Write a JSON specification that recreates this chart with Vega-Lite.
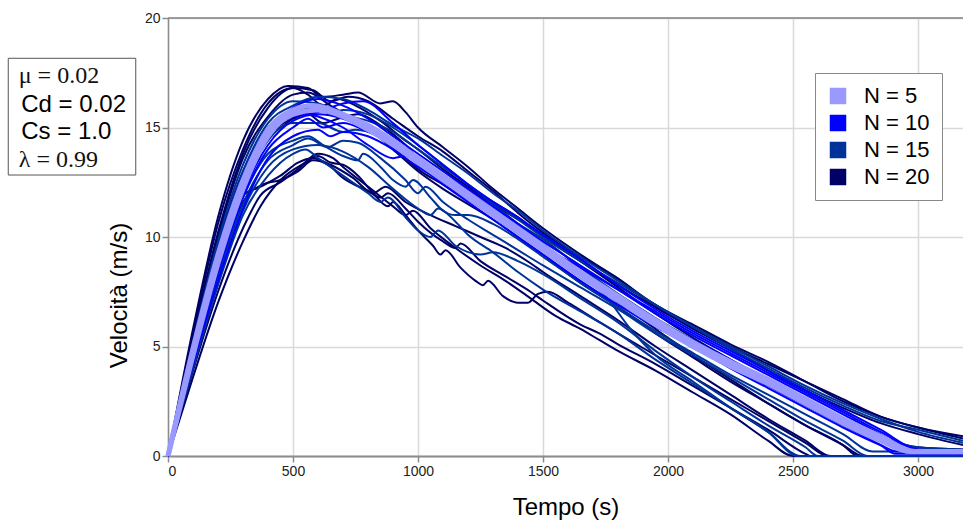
{
"$schema":"https://vega.github.io/schema/vega-lite/v6.json",
"width":795,"height":438,
"autosize":{"type":"none"},
"padding":{"left":168,"top":18,"right":0,"bottom":68},
"background":"white",
"config":{"view":{"stroke":null},"font":"Liberation Sans"},
"datasets":{
"box":[{"t":-639,"t2":-129,"v":18.16,"v2":12.83}],
"frame":[{"t":0,"t2":3180,"v":20}],
"labels":[{"t":-597,"v":17.02,"label":"μ = 0.02","f":"serif"},{"t":-587,"v":15.72,"label":"Cd = 0.02","f":"sans"},{"t":-587,"v":14.46,"label":"Cs = 1.0","f":"sans"},{"t":-597,"v":13.2,"label":"λ = 0.99","f":"serif"}],
"runs":[
{"c":"P1","n":"N = 5","t":0,"v":0},{"c":"P1","n":"N = 5","t":100,"v":4.9},{"c":"P1","n":"N = 5","t":200,"v":9.2},{"c":"P1","n":"N = 5","t":300,"v":12.6},{"c":"P1","n":"N = 5","t":400,"v":14.9},{"c":"P1","n":"N = 5","t":500,"v":15.8},{"c":"P1","n":"N = 5","t":580,"v":16.0},{"c":"P1","n":"N = 5","t":700,"v":15.6},{"c":"P1","n":"N = 5","t":800,"v":15.1},{"c":"P1","n":"N = 5","t":900,"v":14.4},{"c":"P1","n":"N = 5","t":1000,"v":13.6},{"c":"P1","n":"N = 5","t":1100,"v":12.8},{"c":"P1","n":"N = 5","t":1200,"v":12.0},{"c":"P1","n":"N = 5","t":1300,"v":11.2},{"c":"P1","n":"N = 5","t":1400,"v":10.4},{"c":"P1","n":"N = 5","t":1500,"v":9.6},{"c":"P1","n":"N = 5","t":1650,"v":8.4},{"c":"P1","n":"N = 5","t":1800,"v":7.3},{"c":"P1","n":"N = 5","t":1950,"v":6.2},{"c":"P1","n":"N = 5","t":2100,"v":5.2},{"c":"P1","n":"N = 5","t":2250,"v":4.3},{"c":"P1","n":"N = 5","t":2400,"v":3.5},{"c":"P1","n":"N = 5","t":2550,"v":2.6},{"c":"P1","n":"N = 5","t":2700,"v":1.7},{"c":"P1","n":"N = 5","t":2850,"v":0.9},{"c":"P1","n":"N = 5","t":2990,"v":0.2},{"c":"P1","n":"N = 5","t":3180,"v":0.2},
{"c":"P2","n":"N = 5","t":0,"v":0},{"c":"P2","n":"N = 5","t":100,"v":4.6},{"c":"P2","n":"N = 5","t":200,"v":8.8},{"c":"P2","n":"N = 5","t":300,"v":12.2},{"c":"P2","n":"N = 5","t":400,"v":14.6},{"c":"P2","n":"N = 5","t":500,"v":15.6},{"c":"P2","n":"N = 5","t":600,"v":15.8},{"c":"P2","n":"N = 5","t":700,"v":15.5},{"c":"P2","n":"N = 5","t":800,"v":14.9},{"c":"P2","n":"N = 5","t":900,"v":14.2},{"c":"P2","n":"N = 5","t":1000,"v":13.4},{"c":"P2","n":"N = 5","t":1100,"v":12.6},{"c":"P2","n":"N = 5","t":1200,"v":11.8},{"c":"P2","n":"N = 5","t":1300,"v":11.0},{"c":"P2","n":"N = 5","t":1400,"v":10.2},{"c":"P2","n":"N = 5","t":1500,"v":9.4},{"c":"P2","n":"N = 5","t":1650,"v":8.2},{"c":"P2","n":"N = 5","t":1800,"v":7.1},{"c":"P2","n":"N = 5","t":1950,"v":6.0},{"c":"P2","n":"N = 5","t":2100,"v":5.0},{"c":"P2","n":"N = 5","t":2250,"v":4.1},{"c":"P2","n":"N = 5","t":2400,"v":3.3},{"c":"P2","n":"N = 5","t":2550,"v":2.4},{"c":"P2","n":"N = 5","t":2700,"v":1.5},{"c":"P2","n":"N = 5","t":2850,"v":0.7},{"c":"P2","n":"N = 5","t":2970,"v":0.2},{"c":"P2","n":"N = 5","t":3180,"v":0.2},
{"c":"B1","n":"N = 10","t":0,"v":0},{"c":"B1","n":"N = 10","t":100,"v":4.8},{"c":"B1","n":"N = 10","t":200,"v":9.0},{"c":"B1","n":"N = 10","t":300,"v":12.5},{"c":"B1","n":"N = 10","t":400,"v":14.8},{"c":"B1","n":"N = 10","t":500,"v":15.9},{"c":"B1","n":"N = 10","t":600,"v":16.3},{"c":"B1","n":"N = 10","t":700,"v":16.0},{"c":"B1","n":"N = 10","t":800,"v":15.4},{"c":"B1","n":"N = 10","t":900,"v":14.6},{"c":"B1","n":"N = 10","t":1000,"v":13.8},{"c":"B1","n":"N = 10","t":1100,"v":13.0},{"c":"B1","n":"N = 10","t":1200,"v":12.2},{"c":"B1","n":"N = 10","t":1300,"v":11.4},{"c":"B1","n":"N = 10","t":1400,"v":10.6},{"c":"B1","n":"N = 10","t":1500,"v":9.8},{"c":"B1","n":"N = 10","t":1650,"v":8.7},{"c":"B1","n":"N = 10","t":1800,"v":7.6},{"c":"B1","n":"N = 10","t":1950,"v":6.5},{"c":"B1","n":"N = 10","t":2100,"v":5.5},{"c":"B1","n":"N = 10","t":2250,"v":4.6},{"c":"B1","n":"N = 10","t":2400,"v":3.7},{"c":"B1","n":"N = 10","t":2550,"v":2.8},{"c":"B1","n":"N = 10","t":2700,"v":1.9},{"c":"B1","n":"N = 10","t":2850,"v":1.0},{"c":"B1","n":"N = 10","t":2980,"v":0.2},{"c":"B1","n":"N = 10","t":3180,"v":0.2},
{"c":"B2","n":"N = 10","t":0,"v":0},{"c":"B2","n":"N = 10","t":100,"v":4.4},{"c":"B2","n":"N = 10","t":200,"v":8.4},{"c":"B2","n":"N = 10","t":300,"v":11.8},{"c":"B2","n":"N = 10","t":400,"v":14.0},{"c":"B2","n":"N = 10","t":500,"v":15.0},{"c":"B2","n":"N = 10","t":560,"v":15.4},{"c":"B2","n":"N = 10","t":620,"v":15.0},{"c":"B2","n":"N = 10","t":700,"v":15.2},{"c":"B2","n":"N = 10","t":800,"v":14.8},{"c":"B2","n":"N = 10","t":900,"v":14.3},{"c":"B2","n":"N = 10","t":1000,"v":13.5},{"c":"B2","n":"N = 10","t":1100,"v":12.6},{"c":"B2","n":"N = 10","t":1200,"v":11.7},{"c":"B2","n":"N = 10","t":1300,"v":11.0},{"c":"B2","n":"N = 10","t":1400,"v":10.2},{"c":"B2","n":"N = 10","t":1500,"v":9.4},{"c":"B2","n":"N = 10","t":1650,"v":8.2},{"c":"B2","n":"N = 10","t":1800,"v":7.2},{"c":"B2","n":"N = 10","t":1950,"v":6.2},{"c":"B2","n":"N = 10","t":2100,"v":5.3},{"c":"B2","n":"N = 10","t":2250,"v":4.4},{"c":"B2","n":"N = 10","t":2400,"v":3.5},{"c":"B2","n":"N = 10","t":2550,"v":2.6},{"c":"B2","n":"N = 10","t":2700,"v":1.7},{"c":"B2","n":"N = 10","t":2850,"v":0.8},{"c":"B2","n":"N = 10","t":2950,"v":0.2},{"c":"B2","n":"N = 10","t":3180,"v":0.2},
{"c":"B3","n":"N = 10","t":0,"v":0},{"c":"B3","n":"N = 10","t":100,"v":4.2},{"c":"B3","n":"N = 10","t":200,"v":8.0},{"c":"B3","n":"N = 10","t":300,"v":11.3},{"c":"B3","n":"N = 10","t":400,"v":13.6},{"c":"B3","n":"N = 10","t":500,"v":14.6},{"c":"B3","n":"N = 10","t":600,"v":14.9},{"c":"B3","n":"N = 10","t":650,"v":14.6},{"c":"B3","n":"N = 10","t":700,"v":14.8},{"c":"B3","n":"N = 10","t":800,"v":14.6},{"c":"B3","n":"N = 10","t":900,"v":14.0},{"c":"B3","n":"N = 10","t":1000,"v":13.2},{"c":"B3","n":"N = 10","t":1100,"v":12.5},{"c":"B3","n":"N = 10","t":1200,"v":11.8},{"c":"B3","n":"N = 10","t":1300,"v":11.1},{"c":"B3","n":"N = 10","t":1400,"v":10.3},{"c":"B3","n":"N = 10","t":1500,"v":9.5},{"c":"B3","n":"N = 10","t":1650,"v":8.3},{"c":"B3","n":"N = 10","t":1800,"v":7.1},{"c":"B3","n":"N = 10","t":1950,"v":6.0},{"c":"B3","n":"N = 10","t":2100,"v":5.0},{"c":"B3","n":"N = 10","t":2250,"v":4.1},{"c":"B3","n":"N = 10","t":2400,"v":3.2},{"c":"B3","n":"N = 10","t":2550,"v":2.3},{"c":"B3","n":"N = 10","t":2700,"v":1.4},{"c":"B3","n":"N = 10","t":2850,"v":0.5},{"c":"B3","n":"N = 10","t":2910,"v":0.1},{"c":"B3","n":"N = 10","t":3180,"v":0.1},
{"c":"B4","n":"N = 10","t":0,"v":0},{"c":"B4","n":"N = 10","t":100,"v":4.7},{"c":"B4","n":"N = 10","t":200,"v":8.9},{"c":"B4","n":"N = 10","t":300,"v":12.4},{"c":"B4","n":"N = 10","t":400,"v":14.6},{"c":"B4","n":"N = 10","t":500,"v":15.5},{"c":"B4","n":"N = 10","t":600,"v":15.7},{"c":"B4","n":"N = 10","t":700,"v":16.1},{"c":"B4","n":"N = 10","t":780,"v":16.2},{"c":"B4","n":"N = 10","t":900,"v":15.2},{"c":"B4","n":"N = 10","t":1000,"v":14.2},{"c":"B4","n":"N = 10","t":1100,"v":13.3},{"c":"B4","n":"N = 10","t":1200,"v":12.4},{"c":"B4","n":"N = 10","t":1300,"v":11.6},{"c":"B4","n":"N = 10","t":1400,"v":10.9},{"c":"B4","n":"N = 10","t":1500,"v":10.1},{"c":"B4","n":"N = 10","t":1650,"v":9.0},{"c":"B4","n":"N = 10","t":1800,"v":7.8},{"c":"B4","n":"N = 10","t":1950,"v":6.7},{"c":"B4","n":"N = 10","t":2100,"v":5.7},{"c":"B4","n":"N = 10","t":2250,"v":4.8},{"c":"B4","n":"N = 10","t":2400,"v":3.9},{"c":"B4","n":"N = 10","t":2550,"v":3.0},{"c":"B4","n":"N = 10","t":2700,"v":2.1},{"c":"B4","n":"N = 10","t":2850,"v":1.2},{"c":"B4","n":"N = 10","t":3000,"v":0.3},{"c":"B4","n":"N = 10","t":3180,"v":0.2},
{"c":"B5","n":"N = 10","t":0,"v":0},{"c":"B5","n":"N = 10","t":100,"v":5.0},{"c":"B5","n":"N = 10","t":200,"v":9.4},{"c":"B5","n":"N = 10","t":300,"v":12.8},{"c":"B5","n":"N = 10","t":400,"v":15.0},{"c":"B5","n":"N = 10","t":500,"v":15.7},{"c":"B5","n":"N = 10","t":600,"v":15.5},{"c":"B5","n":"N = 10","t":700,"v":15.0},{"c":"B5","n":"N = 10","t":800,"v":14.2},{"c":"B5","n":"N = 10","t":900,"v":13.6},{"c":"B5","n":"N = 10","t":950,"v":13.7},{"c":"B5","n":"N = 10","t":1000,"v":13.3},{"c":"B5","n":"N = 10","t":1100,"v":12.4},{"c":"B5","n":"N = 10","t":1200,"v":11.6},{"c":"B5","n":"N = 10","t":1300,"v":10.8},{"c":"B5","n":"N = 10","t":1400,"v":10.0},{"c":"B5","n":"N = 10","t":1500,"v":9.2},{"c":"B5","n":"N = 10","t":1650,"v":8.0},{"c":"B5","n":"N = 10","t":1800,"v":6.9},{"c":"B5","n":"N = 10","t":1950,"v":5.9},{"c":"B5","n":"N = 10","t":2100,"v":5.0},{"c":"B5","n":"N = 10","t":2250,"v":4.0},{"c":"B5","n":"N = 10","t":2400,"v":3.1},{"c":"B5","n":"N = 10","t":2550,"v":2.2},{"c":"B5","n":"N = 10","t":2700,"v":1.3},{"c":"B5","n":"N = 10","t":2850,"v":0.5},{"c":"B5","n":"N = 10","t":2920,"v":0.2},{"c":"B5","n":"N = 10","t":3180,"v":0.2},
{"c":"B6","n":"N = 10","t":0,"v":0},{"c":"B6","n":"N = 10","t":100,"v":4.5},{"c":"B6","n":"N = 10","t":200,"v":8.6},{"c":"B6","n":"N = 10","t":300,"v":12.0},{"c":"B6","n":"N = 10","t":400,"v":14.2},{"c":"B6","n":"N = 10","t":500,"v":15.3},{"c":"B6","n":"N = 10","t":600,"v":15.6},{"c":"B6","n":"N = 10","t":700,"v":15.4},{"c":"B6","n":"N = 10","t":800,"v":14.9},{"c":"B6","n":"N = 10","t":900,"v":14.2},{"c":"B6","n":"N = 10","t":1000,"v":13.4},{"c":"B6","n":"N = 10","t":1100,"v":12.7},{"c":"B6","n":"N = 10","t":1200,"v":12.0},{"c":"B6","n":"N = 10","t":1300,"v":11.3},{"c":"B6","n":"N = 10","t":1400,"v":10.5},{"c":"B6","n":"N = 10","t":1500,"v":9.6},{"c":"B6","n":"N = 10","t":1650,"v":8.6},{"c":"B6","n":"N = 10","t":1800,"v":7.6},{"c":"B6","n":"N = 10","t":1950,"v":6.6},{"c":"B6","n":"N = 10","t":2100,"v":5.6},{"c":"B6","n":"N = 10","t":2250,"v":4.7},{"c":"B6","n":"N = 10","t":2400,"v":3.8},{"c":"B6","n":"N = 10","t":2550,"v":2.9},{"c":"B6","n":"N = 10","t":2700,"v":2.0},{"c":"B6","n":"N = 10","t":2850,"v":1.1},{"c":"B6","n":"N = 10","t":3000,"v":0.3},{"c":"B6","n":"N = 10","t":3180,"v":0.2},
{"c":"M1","n":"N = 15","t":0,"v":0},{"c":"M1","n":"N = 15","t":100,"v":5.2},{"c":"M1","n":"N = 15","t":200,"v":9.8},{"c":"M1","n":"N = 15","t":300,"v":13.3},{"c":"M1","n":"N = 15","t":400,"v":15.4},{"c":"M1","n":"N = 15","t":500,"v":16.2},{"c":"M1","n":"N = 15","t":600,"v":16.1},{"c":"M1","n":"N = 15","t":700,"v":15.6},{"c":"M1","n":"N = 15","t":800,"v":15.3},{"c":"M1","n":"N = 15","t":900,"v":14.8},{"c":"M1","n":"N = 15","t":1000,"v":14.0},{"c":"M1","n":"N = 15","t":1100,"v":13.2},{"c":"M1","n":"N = 15","t":1200,"v":12.4},{"c":"M1","n":"N = 15","t":1300,"v":11.6},{"c":"M1","n":"N = 15","t":1400,"v":10.8},{"c":"M1","n":"N = 15","t":1500,"v":10.0},{"c":"M1","n":"N = 15","t":1650,"v":8.9},{"c":"M1","n":"N = 15","t":1800,"v":7.9},{"c":"M1","n":"N = 15","t":1950,"v":6.9},{"c":"M1","n":"N = 15","t":2100,"v":5.9},{"c":"M1","n":"N = 15","t":2250,"v":5.0},{"c":"M1","n":"N = 15","t":2400,"v":4.1},{"c":"M1","n":"N = 15","t":2550,"v":3.2},{"c":"M1","n":"N = 15","t":2700,"v":2.4},{"c":"M1","n":"N = 15","t":2850,"v":1.7},{"c":"M1","n":"N = 15","t":3000,"v":1.1},{"c":"M1","n":"N = 15","t":3180,"v":0.6},
{"c":"M2","n":"N = 15","t":0,"v":0},{"c":"M2","n":"N = 15","t":100,"v":4.5},{"c":"M2","n":"N = 15","t":200,"v":8.5},{"c":"M2","n":"N = 15","t":300,"v":11.8},{"c":"M2","n":"N = 15","t":400,"v":13.8},{"c":"M2","n":"N = 15","t":500,"v":14.4},{"c":"M2","n":"N = 15","t":560,"v":14.6},{"c":"M2","n":"N = 15","t":620,"v":14.2},{"c":"M2","n":"N = 15","t":700,"v":13.7},{"c":"M2","n":"N = 15","t":760,"v":13.5},{"c":"M2","n":"N = 15","t":780,"v":13.8},{"c":"M2","n":"N = 15","t":850,"v":13.2},{"c":"M2","n":"N = 15","t":900,"v":12.6},{"c":"M2","n":"N = 15","t":950,"v":12.3},{"c":"M2","n":"N = 15","t":980,"v":12.6},{"c":"M2","n":"N = 15","t":1050,"v":11.8},{"c":"M2","n":"N = 15","t":1100,"v":11.2},{"c":"M2","n":"N = 15","t":1150,"v":11.0},{"c":"M2","n":"N = 15","t":1200,"v":11.0},{"c":"M2","n":"N = 15","t":1300,"v":10.6},{"c":"M2","n":"N = 15","t":1400,"v":9.9},{"c":"M2","n":"N = 15","t":1500,"v":9.1},{"c":"M2","n":"N = 15","t":1650,"v":7.9},{"c":"M2","n":"N = 15","t":1800,"v":6.8},{"c":"M2","n":"N = 15","t":1950,"v":5.7},{"c":"M2","n":"N = 15","t":2100,"v":4.7},{"c":"M2","n":"N = 15","t":2250,"v":3.7},{"c":"M2","n":"N = 15","t":2400,"v":2.8},{"c":"M2","n":"N = 15","t":2550,"v":1.9},{"c":"M2","n":"N = 15","t":2700,"v":1.0},{"c":"M2","n":"N = 15","t":2820,"v":0.2},{"c":"M2","n":"N = 15","t":3180,"v":0.2},
{"c":"M3","n":"N = 15","t":0,"v":0},{"c":"M3","n":"N = 15","t":100,"v":4.0},{"c":"M3","n":"N = 15","t":200,"v":7.8},{"c":"M3","n":"N = 15","t":300,"v":11.0},{"c":"M3","n":"N = 15","t":400,"v":12.8},{"c":"M3","n":"N = 15","t":500,"v":13.8},{"c":"M3","n":"N = 15","t":550,"v":14.0},{"c":"M3","n":"N = 15","t":600,"v":13.6},{"c":"M3","n":"N = 15","t":700,"v":12.8},{"c":"M3","n":"N = 15","t":800,"v":12.0},{"c":"M3","n":"N = 15","t":850,"v":11.6},{"c":"M3","n":"N = 15","t":880,"v":11.8},{"c":"M3","n":"N = 15","t":950,"v":10.9},{"c":"M3","n":"N = 15","t":1000,"v":10.3},{"c":"M3","n":"N = 15","t":1050,"v":10.0},{"c":"M3","n":"N = 15","t":1080,"v":10.3},{"c":"M3","n":"N = 15","t":1150,"v":9.6},{"c":"M3","n":"N = 15","t":1250,"v":9.2},{"c":"M3","n":"N = 15","t":1300,"v":9.3},{"c":"M3","n":"N = 15","t":1400,"v":8.9},{"c":"M3","n":"N = 15","t":1500,"v":8.3},{"c":"M3","n":"N = 15","t":1650,"v":7.2},{"c":"M3","n":"N = 15","t":1800,"v":6.1},{"c":"M3","n":"N = 15","t":1950,"v":4.8},{"c":"M3","n":"N = 15","t":2100,"v":3.6},{"c":"M3","n":"N = 15","t":2250,"v":2.5},{"c":"M3","n":"N = 15","t":2400,"v":1.4},{"c":"M3","n":"N = 15","t":2550,"v":0.4},{"c":"M3","n":"N = 15","t":2600,"v":0},{"c":"M3","n":"N = 15","t":3180,"v":0},
{"c":"M4","n":"N = 15","t":0,"v":0},{"c":"M4","n":"N = 15","t":100,"v":4.9},{"c":"M4","n":"N = 15","t":200,"v":9.3},{"c":"M4","n":"N = 15","t":300,"v":12.7},{"c":"M4","n":"N = 15","t":400,"v":14.9},{"c":"M4","n":"N = 15","t":500,"v":15.8},{"c":"M4","n":"N = 15","t":600,"v":15.9},{"c":"M4","n":"N = 15","t":650,"v":15.6},{"c":"M4","n":"N = 15","t":700,"v":15.8},{"c":"M4","n":"N = 15","t":800,"v":15.6},{"c":"M4","n":"N = 15","t":900,"v":15.0},{"c":"M4","n":"N = 15","t":1000,"v":14.2},{"c":"M4","n":"N = 15","t":1100,"v":13.3},{"c":"M4","n":"N = 15","t":1200,"v":12.4},{"c":"M4","n":"N = 15","t":1300,"v":11.5},{"c":"M4","n":"N = 15","t":1400,"v":10.6},{"c":"M4","n":"N = 15","t":1500,"v":9.7},{"c":"M4","n":"N = 15","t":1650,"v":8.3},{"c":"M4","n":"N = 15","t":1750,"v":7.3},{"c":"M4","n":"N = 15","t":1850,"v":5.8},{"c":"M4","n":"N = 15","t":1950,"v":4.6},{"c":"M4","n":"N = 15","t":2100,"v":3.4},{"c":"M4","n":"N = 15","t":2250,"v":2.2},{"c":"M4","n":"N = 15","t":2400,"v":1.1},{"c":"M4","n":"N = 15","t":2530,"v":0},{"c":"M4","n":"N = 15","t":3180,"v":0},
{"c":"M5","n":"N = 15","t":0,"v":0},{"c":"M5","n":"N = 15","t":100,"v":4.3},{"c":"M5","n":"N = 15","t":200,"v":8.2},{"c":"M5","n":"N = 15","t":300,"v":11.5},{"c":"M5","n":"N = 15","t":400,"v":13.5},{"c":"M5","n":"N = 15","t":500,"v":14.2},{"c":"M5","n":"N = 15","t":560,"v":14.5},{"c":"M5","n":"N = 15","t":640,"v":14.1},{"c":"M5","n":"N = 15","t":700,"v":14.4},{"c":"M5","n":"N = 15","t":760,"v":14.3},{"c":"M5","n":"N = 15","t":850,"v":13.6},{"c":"M5","n":"N = 15","t":950,"v":12.6},{"c":"M5","n":"N = 15","t":1000,"v":12.0},{"c":"M5","n":"N = 15","t":1030,"v":12.3},{"c":"M5","n":"N = 15","t":1100,"v":11.6},{"c":"M5","n":"N = 15","t":1200,"v":10.8},{"c":"M5","n":"N = 15","t":1300,"v":10.1},{"c":"M5","n":"N = 15","t":1400,"v":9.4},{"c":"M5","n":"N = 15","t":1500,"v":8.7},{"c":"M5","n":"N = 15","t":1650,"v":7.7},{"c":"M5","n":"N = 15","t":1800,"v":6.7},{"c":"M5","n":"N = 15","t":1950,"v":5.6},{"c":"M5","n":"N = 15","t":2100,"v":4.6},{"c":"M5","n":"N = 15","t":2250,"v":3.6},{"c":"M5","n":"N = 15","t":2400,"v":2.6},{"c":"M5","n":"N = 15","t":2550,"v":1.6},{"c":"M5","n":"N = 15","t":2700,"v":0.7},{"c":"M5","n":"N = 15","t":2800,"v":0},{"c":"M5","n":"N = 15","t":3180,"v":0},
{"c":"M6","n":"N = 15","t":0,"v":0},{"c":"M6","n":"N = 15","t":100,"v":5.0},{"c":"M6","n":"N = 15","t":200,"v":9.5},{"c":"M6","n":"N = 15","t":300,"v":13.0},{"c":"M6","n":"N = 15","t":400,"v":15.2},{"c":"M6","n":"N = 15","t":500,"v":16.0},{"c":"M6","n":"N = 15","t":600,"v":16.4},{"c":"M6","n":"N = 15","t":700,"v":16.3},{"c":"M6","n":"N = 15","t":800,"v":15.8},{"c":"M6","n":"N = 15","t":900,"v":15.1},{"c":"M6","n":"N = 15","t":1000,"v":14.5},{"c":"M6","n":"N = 15","t":1100,"v":13.7},{"c":"M6","n":"N = 15","t":1200,"v":12.9},{"c":"M6","n":"N = 15","t":1300,"v":12.0},{"c":"M6","n":"N = 15","t":1400,"v":11.2},{"c":"M6","n":"N = 15","t":1500,"v":10.3},{"c":"M6","n":"N = 15","t":1650,"v":9.1},{"c":"M6","n":"N = 15","t":1800,"v":8.0},{"c":"M6","n":"N = 15","t":1950,"v":6.9},{"c":"M6","n":"N = 15","t":2100,"v":5.9},{"c":"M6","n":"N = 15","t":2250,"v":4.9},{"c":"M6","n":"N = 15","t":2400,"v":4.0},{"c":"M6","n":"N = 15","t":2550,"v":3.1},{"c":"M6","n":"N = 15","t":2700,"v":2.3},{"c":"M6","n":"N = 15","t":2850,"v":1.6},{"c":"M6","n":"N = 15","t":3000,"v":1.2},{"c":"M6","n":"N = 15","t":3180,"v":0.7},
{"c":"M7","n":"N = 15","t":0,"v":0},{"c":"M7","n":"N = 15","t":100,"v":4.1},{"c":"M7","n":"N = 15","t":200,"v":7.9},{"c":"M7","n":"N = 15","t":300,"v":11.2},{"c":"M7","n":"N = 15","t":400,"v":13.2},{"c":"M7","n":"N = 15","t":500,"v":14.0},{"c":"M7","n":"N = 15","t":600,"v":14.2},{"c":"M7","n":"N = 15","t":700,"v":13.9},{"c":"M7","n":"N = 15","t":800,"v":13.2},{"c":"M7","n":"N = 15","t":900,"v":12.2},{"c":"M7","n":"N = 15","t":1000,"v":11.3},{"c":"M7","n":"N = 15","t":1050,"v":11.0},{"c":"M7","n":"N = 15","t":1080,"v":11.3},{"c":"M7","n":"N = 15","t":1150,"v":10.7},{"c":"M7","n":"N = 15","t":1200,"v":10.1},{"c":"M7","n":"N = 15","t":1300,"v":9.3},{"c":"M7","n":"N = 15","t":1400,"v":8.4},{"c":"M7","n":"N = 15","t":1500,"v":7.6},{"c":"M7","n":"N = 15","t":1650,"v":6.6},{"c":"M7","n":"N = 15","t":1800,"v":5.6},{"c":"M7","n":"N = 15","t":1950,"v":4.4},{"c":"M7","n":"N = 15","t":2100,"v":3.3},{"c":"M7","n":"N = 15","t":2250,"v":2.2},{"c":"M7","n":"N = 15","t":2400,"v":1.1},{"c":"M7","n":"N = 15","t":2520,"v":0},{"c":"M7","n":"N = 15","t":3180,"v":0},
{"c":"M8","n":"N = 15","t":0,"v":0},{"c":"M8","n":"N = 15","t":100,"v":4.6},{"c":"M8","n":"N = 15","t":200,"v":8.8},{"c":"M8","n":"N = 15","t":300,"v":12.2},{"c":"M8","n":"N = 15","t":400,"v":14.4},{"c":"M8","n":"N = 15","t":500,"v":15.2},{"c":"M8","n":"N = 15","t":600,"v":15.2},{"c":"M8","n":"N = 15","t":700,"v":14.8},{"c":"M8","n":"N = 15","t":750,"v":14.9},{"c":"M8","n":"N = 15","t":850,"v":14.6},{"c":"M8","n":"N = 15","t":950,"v":13.9},{"c":"M8","n":"N = 15","t":1000,"v":13.5},{"c":"M8","n":"N = 15","t":1100,"v":12.8},{"c":"M8","n":"N = 15","t":1200,"v":12.1},{"c":"M8","n":"N = 15","t":1300,"v":11.3},{"c":"M8","n":"N = 15","t":1400,"v":10.6},{"c":"M8","n":"N = 15","t":1500,"v":9.9},{"c":"M8","n":"N = 15","t":1650,"v":8.6},{"c":"M8","n":"N = 15","t":1800,"v":7.4},{"c":"M8","n":"N = 15","t":1950,"v":6.3},{"c":"M8","n":"N = 15","t":2100,"v":5.3},{"c":"M8","n":"N = 15","t":2250,"v":4.3},{"c":"M8","n":"N = 15","t":2400,"v":3.4},{"c":"M8","n":"N = 15","t":2550,"v":2.5},{"c":"M8","n":"N = 15","t":2700,"v":1.6},{"c":"M8","n":"N = 15","t":2850,"v":0.9},{"c":"M8","n":"N = 15","t":3000,"v":0.4},{"c":"M8","n":"N = 15","t":3180,"v":0.3},
{"c":"D1","n":"N = 20","t":0,"v":0},{"c":"D1","n":"N = 20","t":100,"v":5.8},{"c":"D1","n":"N = 20","t":200,"v":10.9},{"c":"D1","n":"N = 20","t":300,"v":14.4},{"c":"D1","n":"N = 20","t":400,"v":16.3},{"c":"D1","n":"N = 20","t":480,"v":16.9},{"c":"D1","n":"N = 20","t":560,"v":16.8},{"c":"D1","n":"N = 20","t":620,"v":16.4},{"c":"D1","n":"N = 20","t":700,"v":16.5},{"c":"D1","n":"N = 20","t":760,"v":16.6},{"c":"D1","n":"N = 20","t":850,"v":16.1},{"c":"D1","n":"N = 20","t":900,"v":16.2},{"c":"D1","n":"N = 20","t":950,"v":15.7},{"c":"D1","n":"N = 20","t":1000,"v":15.0},{"c":"D1","n":"N = 20","t":1100,"v":14.1},{"c":"D1","n":"N = 20","t":1200,"v":13.2},{"c":"D1","n":"N = 20","t":1300,"v":12.2},{"c":"D1","n":"N = 20","t":1400,"v":11.3},{"c":"D1","n":"N = 20","t":1500,"v":10.4},{"c":"D1","n":"N = 20","t":1650,"v":9.2},{"c":"D1","n":"N = 20","t":1800,"v":8.1},{"c":"D1","n":"N = 20","t":1950,"v":6.9},{"c":"D1","n":"N = 20","t":2100,"v":6.0},{"c":"D1","n":"N = 20","t":2250,"v":5.1},{"c":"D1","n":"N = 20","t":2400,"v":4.3},{"c":"D1","n":"N = 20","t":2550,"v":3.4},{"c":"D1","n":"N = 20","t":2700,"v":2.5},{"c":"D1","n":"N = 20","t":2850,"v":1.8},{"c":"D1","n":"N = 20","t":3000,"v":1.3},{"c":"D1","n":"N = 20","t":3180,"v":0.8},
{"c":"D2","n":"N = 20","t":0,"v":0},{"c":"D2","n":"N = 20","t":100,"v":5.4},{"c":"D2","n":"N = 20","t":200,"v":10.2},{"c":"D2","n":"N = 20","t":300,"v":13.8},{"c":"D2","n":"N = 20","t":400,"v":15.9},{"c":"D2","n":"N = 20","t":500,"v":16.8},{"c":"D2","n":"N = 20","t":560,"v":16.5},{"c":"D2","n":"N = 20","t":620,"v":16.0},{"c":"D2","n":"N = 20","t":680,"v":16.3},{"c":"D2","n":"N = 20","t":750,"v":16.0},{"c":"D2","n":"N = 20","t":850,"v":15.3},{"c":"D2","n":"N = 20","t":950,"v":14.4},{"c":"D2","n":"N = 20","t":1000,"v":14.0},{"c":"D2","n":"N = 20","t":1100,"v":13.1},{"c":"D2","n":"N = 20","t":1200,"v":12.3},{"c":"D2","n":"N = 20","t":1300,"v":11.6},{"c":"D2","n":"N = 20","t":1400,"v":10.9},{"c":"D2","n":"N = 20","t":1500,"v":10.0},{"c":"D2","n":"N = 20","t":1650,"v":8.9},{"c":"D2","n":"N = 20","t":1800,"v":7.8},{"c":"D2","n":"N = 20","t":1950,"v":6.8},{"c":"D2","n":"N = 20","t":2100,"v":5.8},{"c":"D2","n":"N = 20","t":2250,"v":4.9},{"c":"D2","n":"N = 20","t":2400,"v":3.9},{"c":"D2","n":"N = 20","t":2550,"v":3.0},{"c":"D2","n":"N = 20","t":2700,"v":2.2},{"c":"D2","n":"N = 20","t":2850,"v":1.5},{"c":"D2","n":"N = 20","t":3000,"v":1.0},{"c":"D2","n":"N = 20","t":3180,"v":0.5},
{"c":"D3","n":"N = 20","t":0,"v":0},{"c":"D3","n":"N = 20","t":100,"v":3.6},{"c":"D3","n":"N = 20","t":200,"v":7.0},{"c":"D3","n":"N = 20","t":300,"v":9.8},{"c":"D3","n":"N = 20","t":370,"v":11.4},{"c":"D3","n":"N = 20","t":450,"v":12.6},{"c":"D3","n":"N = 20","t":550,"v":13.4},{"c":"D3","n":"N = 20","t":600,"v":13.7},{"c":"D3","n":"N = 20","t":650,"v":13.4},{"c":"D3","n":"N = 20","t":700,"v":13.3},{"c":"D3","n":"N = 20","t":760,"v":12.8},{"c":"D3","n":"N = 20","t":820,"v":12.0},{"c":"D3","n":"N = 20","t":880,"v":11.4},{"c":"D3","n":"N = 20","t":900,"v":11.6},{"c":"D3","n":"N = 20","t":950,"v":11.0},{"c":"D3","n":"N = 20","t":1000,"v":10.3},{"c":"D3","n":"N = 20","t":1060,"v":9.6},{"c":"D3","n":"N = 20","t":1090,"v":9.2},{"c":"D3","n":"N = 20","t":1110,"v":9.4},{"c":"D3","n":"N = 20","t":1170,"v":8.6},{"c":"D3","n":"N = 20","t":1230,"v":8.0},{"c":"D3","n":"N = 20","t":1260,"v":7.8},{"c":"D3","n":"N = 20","t":1280,"v":8.0},{"c":"D3","n":"N = 20","t":1340,"v":7.3},{"c":"D3","n":"N = 20","t":1400,"v":7.0},{"c":"D3","n":"N = 20","t":1440,"v":7.0},{"c":"D3","n":"N = 20","t":1480,"v":7.4},{"c":"D3","n":"N = 20","t":1520,"v":7.5},{"c":"D3","n":"N = 20","t":1600,"v":7.0},{"c":"D3","n":"N = 20","t":1700,"v":6.3},{"c":"D3","n":"N = 20","t":1800,"v":5.6},{"c":"D3","n":"N = 20","t":1950,"v":4.6},{"c":"D3","n":"N = 20","t":2100,"v":3.6},{"c":"D3","n":"N = 20","t":2250,"v":2.6},{"c":"D3","n":"N = 20","t":2400,"v":1.6},{"c":"D3","n":"N = 20","t":2550,"v":0.6},{"c":"D3","n":"N = 20","t":2640,"v":0},{"c":"D3","n":"N = 20","t":3180,"v":0},
{"c":"D4","n":"N = 20","t":0,"v":0},{"c":"D4","n":"N = 20","t":100,"v":3.9},{"c":"D4","n":"N = 20","t":200,"v":7.5},{"c":"D4","n":"N = 20","t":300,"v":10.4},{"c":"D4","n":"N = 20","t":370,"v":11.9},{"c":"D4","n":"N = 20","t":450,"v":12.5},{"c":"D4","n":"N = 20","t":520,"v":13.1},{"c":"D4","n":"N = 20","t":600,"v":13.8},{"c":"D4","n":"N = 20","t":660,"v":13.6},{"c":"D4","n":"N = 20","t":700,"v":13.2},{"c":"D4","n":"N = 20","t":800,"v":12.3},{"c":"D4","n":"N = 20","t":900,"v":11.4},{"c":"D4","n":"N = 20","t":950,"v":11.0},{"c":"D4","n":"N = 20","t":980,"v":11.2},{"c":"D4","n":"N = 20","t":1050,"v":10.4},{"c":"D4","n":"N = 20","t":1150,"v":9.5},{"c":"D4","n":"N = 20","t":1250,"v":8.7},{"c":"D4","n":"N = 20","t":1350,"v":8.0},{"c":"D4","n":"N = 20","t":1450,"v":7.2},{"c":"D4","n":"N = 20","t":1550,"v":6.4},{"c":"D4","n":"N = 20","t":1650,"v":5.8},{"c":"D4","n":"N = 20","t":1725,"v":5.3},{"c":"D4","n":"N = 20","t":1800,"v":4.8},{"c":"D4","n":"N = 20","t":1950,"v":3.9},{"c":"D4","n":"N = 20","t":2100,"v":2.9},{"c":"D4","n":"N = 20","t":2250,"v":1.9},{"c":"D4","n":"N = 20","t":2400,"v":0.7},{"c":"D4","n":"N = 20","t":2500,"v":0},{"c":"D4","n":"N = 20","t":3180,"v":0},
{"c":"D5","n":"N = 20","t":0,"v":0},{"c":"D5","n":"N = 20","t":100,"v":4.4},{"c":"D5","n":"N = 20","t":200,"v":8.4},{"c":"D5","n":"N = 20","t":300,"v":11.6},{"c":"D5","n":"N = 20","t":380,"v":12.4},{"c":"D5","n":"N = 20","t":450,"v":12.6},{"c":"D5","n":"N = 20","t":520,"v":13.0},{"c":"D5","n":"N = 20","t":580,"v":13.5},{"c":"D5","n":"N = 20","t":640,"v":13.3},{"c":"D5","n":"N = 20","t":700,"v":12.7},{"c":"D5","n":"N = 20","t":800,"v":12.1},{"c":"D5","n":"N = 20","t":850,"v":11.8},{"c":"D5","n":"N = 20","t":880,"v":12.0},{"c":"D5","n":"N = 20","t":950,"v":11.3},{"c":"D5","n":"N = 20","t":1000,"v":10.7},{"c":"D5","n":"N = 20","t":1100,"v":9.8},{"c":"D5","n":"N = 20","t":1150,"v":9.5},{"c":"D5","n":"N = 20","t":1170,"v":9.7},{"c":"D5","n":"N = 20","t":1250,"v":8.9},{"c":"D5","n":"N = 20","t":1350,"v":8.2},{"c":"D5","n":"N = 20","t":1450,"v":7.5},{"c":"D5","n":"N = 20","t":1500,"v":7.1},{"c":"D5","n":"N = 20","t":1650,"v":6.0},{"c":"D5","n":"N = 20","t":1725,"v":5.6},{"c":"D5","n":"N = 20","t":1800,"v":5.1},{"c":"D5","n":"N = 20","t":1950,"v":4.2},{"c":"D5","n":"N = 20","t":2100,"v":3.2},{"c":"D5","n":"N = 20","t":2250,"v":2.2},{"c":"D5","n":"N = 20","t":2400,"v":1.2},{"c":"D5","n":"N = 20","t":2550,"v":0.1},{"c":"D5","n":"N = 20","t":2570,"v":0},{"c":"D5","n":"N = 20","t":3180,"v":0},
{"c":"D6","n":"N = 20","t":0,"v":0},{"c":"D6","n":"N = 20","t":100,"v":5.6},{"c":"D6","n":"N = 20","t":200,"v":10.6},{"c":"D6","n":"N = 20","t":300,"v":14.0},{"c":"D6","n":"N = 20","t":400,"v":16.1},{"c":"D6","n":"N = 20","t":500,"v":16.8},{"c":"D6","n":"N = 20","t":580,"v":16.7},{"c":"D6","n":"N = 20","t":650,"v":16.2},{"c":"D6","n":"N = 20","t":720,"v":16.4},{"c":"D6","n":"N = 20","t":800,"v":16.2},{"c":"D6","n":"N = 20","t":900,"v":15.4},{"c":"D6","n":"N = 20","t":1000,"v":14.6},{"c":"D6","n":"N = 20","t":1100,"v":13.9},{"c":"D6","n":"N = 20","t":1200,"v":13.0},{"c":"D6","n":"N = 20","t":1300,"v":12.1},{"c":"D6","n":"N = 20","t":1400,"v":11.1},{"c":"D6","n":"N = 20","t":1500,"v":10.2},{"c":"D6","n":"N = 20","t":1650,"v":9.1},{"c":"D6","n":"N = 20","t":1800,"v":8.1},{"c":"D6","n":"N = 20","t":1950,"v":6.8},{"c":"D6","n":"N = 20","t":2100,"v":5.9},{"c":"D6","n":"N = 20","t":2250,"v":5.0},{"c":"D6","n":"N = 20","t":2400,"v":4.2},{"c":"D6","n":"N = 20","t":2550,"v":3.4},{"c":"D6","n":"N = 20","t":2700,"v":2.6},{"c":"D6","n":"N = 20","t":2850,"v":1.8},{"c":"D6","n":"N = 20","t":3000,"v":1.3},{"c":"D6","n":"N = 20","t":3180,"v":0.9},
{"c":"D7","n":"N = 20","t":0,"v":0},{"c":"D7","n":"N = 20","t":100,"v":5.0},{"c":"D7","n":"N = 20","t":200,"v":9.6},{"c":"D7","n":"N = 20","t":300,"v":13.0},{"c":"D7","n":"N = 20","t":400,"v":14.8},{"c":"D7","n":"N = 20","t":450,"v":15.0},{"c":"D7","n":"N = 20","t":520,"v":15.6},{"c":"D7","n":"N = 20","t":600,"v":15.9},{"c":"D7","n":"N = 20","t":700,"v":15.6},{"c":"D7","n":"N = 20","t":800,"v":15.0},{"c":"D7","n":"N = 20","t":900,"v":14.0},{"c":"D7","n":"N = 20","t":1000,"v":13.0},{"c":"D7","n":"N = 20","t":1100,"v":12.2},{"c":"D7","n":"N = 20","t":1200,"v":11.5},{"c":"D7","n":"N = 20","t":1300,"v":10.8},{"c":"D7","n":"N = 20","t":1400,"v":10.0},{"c":"D7","n":"N = 20","t":1500,"v":9.2},{"c":"D7","n":"N = 20","t":1650,"v":7.9},{"c":"D7","n":"N = 20","t":1800,"v":6.8},{"c":"D7","n":"N = 20","t":1950,"v":5.6},{"c":"D7","n":"N = 20","t":2100,"v":4.5},{"c":"D7","n":"N = 20","t":2250,"v":3.4},{"c":"D7","n":"N = 20","t":2400,"v":2.4},{"c":"D7","n":"N = 20","t":2550,"v":1.4},{"c":"D7","n":"N = 20","t":2700,"v":0.5},{"c":"D7","n":"N = 20","t":2780,"v":0},{"c":"D7","n":"N = 20","t":3180,"v":0},
{"c":"D8","n":"N = 20","t":0,"v":0},{"c":"D8","n":"N = 20","t":100,"v":5.3},{"c":"D8","n":"N = 20","t":200,"v":10.0},{"c":"D8","n":"N = 20","t":300,"v":13.6},{"c":"D8","n":"N = 20","t":400,"v":15.5},{"c":"D8","n":"N = 20","t":500,"v":16.5},{"c":"D8","n":"N = 20","t":560,"v":16.6},{"c":"D8","n":"N = 20","t":650,"v":16.0},{"c":"D8","n":"N = 20","t":750,"v":15.3},{"c":"D8","n":"N = 20","t":850,"v":14.5},{"c":"D8","n":"N = 20","t":950,"v":13.6},{"c":"D8","n":"N = 20","t":1000,"v":13.1},{"c":"D8","n":"N = 20","t":1100,"v":12.4},{"c":"D8","n":"N = 20","t":1200,"v":11.7},{"c":"D8","n":"N = 20","t":1300,"v":11.0},{"c":"D8","n":"N = 20","t":1400,"v":10.2},{"c":"D8","n":"N = 20","t":1500,"v":9.4},{"c":"D8","n":"N = 20","t":1650,"v":8.2},{"c":"D8","n":"N = 20","t":1800,"v":7.0},{"c":"D8","n":"N = 20","t":1950,"v":5.8},{"c":"D8","n":"N = 20","t":2100,"v":4.6},{"c":"D8","n":"N = 20","t":2250,"v":3.5},{"c":"D8","n":"N = 20","t":2400,"v":2.4},{"c":"D8","n":"N = 20","t":2550,"v":1.4},{"c":"D8","n":"N = 20","t":2700,"v":0.5},{"c":"D8","n":"N = 20","t":2760,"v":0},{"c":"D8","n":"N = 20","t":3180,"v":0},
{"c":"D9","n":"N = 20","t":0,"v":0},{"c":"D9","n":"N = 20","t":100,"v":4.9},{"c":"D9","n":"N = 20","t":200,"v":9.3},{"c":"D9","n":"N = 20","t":300,"v":11.9},{"c":"D9","n":"N = 20","t":370,"v":12.3},{"c":"D9","n":"N = 20","t":450,"v":12.8},{"c":"D9","n":"N = 20","t":520,"v":13.4},{"c":"D9","n":"N = 20","t":580,"v":13.6},{"c":"D9","n":"N = 20","t":650,"v":13.3},{"c":"D9","n":"N = 20","t":740,"v":12.7},{"c":"D9","n":"N = 20","t":820,"v":12.0},{"c":"D9","n":"N = 20","t":870,"v":12.3},{"c":"D9","n":"N = 20","t":950,"v":11.6},{"c":"D9","n":"N = 20","t":1050,"v":11.0},{"c":"D9","n":"N = 20","t":1150,"v":10.5},{"c":"D9","n":"N = 20","t":1250,"v":10.0},{"c":"D9","n":"N = 20","t":1350,"v":9.5},{"c":"D9","n":"N = 20","t":1450,"v":8.8},{"c":"D9","n":"N = 20","t":1500,"v":8.4},{"c":"D9","n":"N = 20","t":1650,"v":7.3},{"c":"D9","n":"N = 20","t":1800,"v":6.2},{"c":"D9","n":"N = 20","t":1950,"v":5.0},{"c":"D9","n":"N = 20","t":2100,"v":3.9},{"c":"D9","n":"N = 20","t":2250,"v":2.8},{"c":"D9","n":"N = 20","t":2400,"v":1.7},{"c":"D9","n":"N = 20","t":2550,"v":0.7},{"c":"D9","n":"N = 20","t":2650,"v":0},{"c":"D9","n":"N = 20","t":3180,"v":0},
{"c":"D10","n":"N = 20","t":0,"v":0},{"c":"D10","n":"N = 20","t":100,"v":4.8},{"c":"D10","n":"N = 20","t":200,"v":9.1},{"c":"D10","n":"N = 20","t":300,"v":12.6},{"c":"D10","n":"N = 20","t":400,"v":14.6},{"c":"D10","n":"N = 20","t":500,"v":15.4},{"c":"D10","n":"N = 20","t":560,"v":15.6},{"c":"D10","n":"N = 20","t":620,"v":15.2},{"c":"D10","n":"N = 20","t":680,"v":15.4},{"c":"D10","n":"N = 20","t":760,"v":15.6},{"c":"D10","n":"N = 20","t":850,"v":15.1},{"c":"D10","n":"N = 20","t":950,"v":14.2},{"c":"D10","n":"N = 20","t":1000,"v":13.6},{"c":"D10","n":"N = 20","t":1100,"v":12.8},{"c":"D10","n":"N = 20","t":1200,"v":12.2},{"c":"D10","n":"N = 20","t":1300,"v":11.5},{"c":"D10","n":"N = 20","t":1400,"v":10.8},{"c":"D10","n":"N = 20","t":1500,"v":10.1},{"c":"D10","n":"N = 20","t":1650,"v":8.9},{"c":"D10","n":"N = 20","t":1800,"v":7.7},{"c":"D10","n":"N = 20","t":1950,"v":6.5},{"c":"D10","n":"N = 20","t":2100,"v":5.4},{"c":"D10","n":"N = 20","t":2250,"v":4.4},{"c":"D10","n":"N = 20","t":2400,"v":3.4},{"c":"D10","n":"N = 20","t":2550,"v":2.4},{"c":"D10","n":"N = 20","t":2700,"v":1.5},{"c":"D10","n":"N = 20","t":2850,"v":0.8},{"c":"D10","n":"N = 20","t":3000,"v":0.4},{"c":"D10","n":"N = 20","t":3180,"v":0.3}
]},
"encoding":{
"x":{"field":"t","type":"quantitative","title":"Tempo (s)","scale":{"domain":[0,3180],"nice":false,"zero":false},
"axis":{"values":[0,500,1000,1500,2000,2500,3000],"format":"d","grid":true,"gridColor":"#d9d9d9","gridWidth":1.5,"domainColor":"#8c8c8c","domainWidth":2,"tickColor":"#8c8c8c","tickSize":6,"tickWidth":1.5,"labelFontSize":14,"labelColor":"#222","labelPadding":2,"labelFont":"Liberation Sans","titleFont":"Liberation Sans","titleFontSize":24,"titleFontWeight":"normal","titleColor":"#000","titlePadding":17}},
"y":{"field":"v","type":"quantitative","title":"Velocità (m/s)","scale":{"domain":[0,20],"nice":false,"zero":false},
"axis":{"values":[0,5,10,15,20],"format":"d","grid":true,"gridColor":"#d9d9d9","gridWidth":1.5,"domainColor":"#8c8c8c","domainWidth":1.5,"tickColor":"#8c8c8c","tickSize":6,"tickWidth":1.5,"labelFontSize":14,"labelColor":"#222","labelPadding":2,"labelFont":"Liberation Sans","titleFont":"Liberation Sans","titleFontSize":24,"titleFontWeight":"normal","titleColor":"#000","titlePadding":13,"titleY":277}}
},
"layer":[
{"data":{"name":"box"},"mark":{"type":"rect","fill":"white","stroke":"#555","strokeWidth":1},"encoding":{"x2":{"field":"t2"},"y2":{"field":"v2"}}},
{"data":{"name":"frame"},"mark":{"type":"rule","color":"#808080","strokeWidth":1.5},"encoding":{"x2":{"field":"t2"}}},
{"data":{"name":"runs"},"transform":[{"filter":"datum.n == 'N = 20'"}],"mark":{"type":"line","interpolate":"monotone","strokeWidth":2},
"encoding":{"detail":{"field":"c"},"color":{"field":"n","type":"nominal","scale":{"domain":["N = 5","N = 10","N = 15","N = 20"],"range":["#9999ff","#0000ff","#003399","#000066"]},
"legend":{"title":null,"orient":"none","legendX":647,"legendY":55,"symbolType":"square","symbolSize":272,"labelFontSize":22,"labelFont":"Liberation Sans","labelColor":"#000","labelOffset":15,"rowPadding":5,"padding":12,"strokeColor":"#888","fillColor":"#fff","symbolStrokeWidth":0,"encode":{"symbols":{"update":{"fill":{"scale":"color","field":"value"},"stroke":{"value":"transparent"},"opacity":{"value":1}}}}}}}},
{"data":{"name":"runs"},"transform":[{"filter":"datum.n == 'N = 15'"}],"mark":{"type":"line","interpolate":"monotone","strokeWidth":2},
"encoding":{"detail":{"field":"c"},"color":{"field":"n","type":"nominal","scale":{"domain":["N = 5","N = 10","N = 15","N = 20"],"range":["#9999ff","#0000ff","#003399","#000066"]}}}},
{"data":{"name":"runs"},"transform":[{"filter":"datum.n == 'N = 10'"}],"mark":{"type":"line","interpolate":"monotone","strokeWidth":2},
"encoding":{"detail":{"field":"c"},"color":{"field":"n","type":"nominal","scale":{"domain":["N = 5","N = 10","N = 15","N = 20"],"range":["#9999ff","#0000ff","#003399","#000066"]}}}},
{"data":{"name":"runs"},"transform":[{"filter":"datum.n == 'N = 5'"}],"mark":{"type":"line","interpolate":"monotone","strokeWidth":5},
"encoding":{"detail":{"field":"c"},"color":{"field":"n","type":"nominal","scale":{"domain":["N = 5","N = 10","N = 15","N = 20"],"range":["#9999ff","#0000ff","#003399","#000066"]}}}},
{"data":{"name":"labels"},"transform":[{"filter":"datum.f == 'serif'"}],"mark":{"type":"text","font":"Liberation Serif","fontSize":24,"align":"left","baseline":"alphabetic","color":"#111"},"encoding":{"text":{"field":"label"}}},
{"data":{"name":"labels"},"transform":[{"filter":"datum.f == 'sans'"}],"mark":{"type":"text","font":"Liberation Sans","fontSize":24,"align":"left","baseline":"alphabetic","color":"#000"},"encoding":{"text":{"field":"label"}}}
]
}
